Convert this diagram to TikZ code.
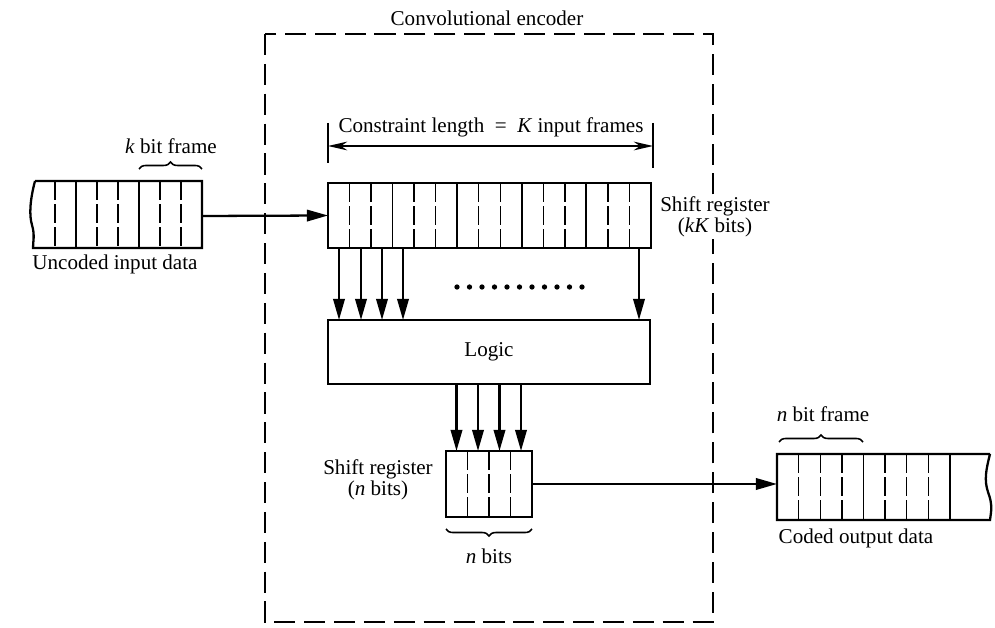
\documentclass[tikz,border=0pt]{standalone}
\usepackage{fontspec}
\setmainfont{Liberation Serif}
\usetikzlibrary{arrows.meta, positioning, calc, decorations.pathreplacing}

\begin{document}
\begin{tikzpicture}[x=0.02cm, y=-0.02cm,
    every node/.style={font=\fontsize{12}{12}\selectfont},
    reg/.style={draw, line width=1.3pt, inner sep=0pt, outer sep=0pt, anchor=north west},
    bitline/.style={line width=0.8pt, dash pattern=on 10.8pt off 2.3pt},
    frameline/.style={line width=1pt},
    arr/.style={line width=1.3pt, -{Triangle[length=12pt,width=6.5pt]}},
    encbox/.style={line width=1.1pt, dash pattern=on 12pt off 5pt},
    brc/.style={decorate, decoration={brace, amplitude=4pt}, line width=0.9pt}]
    \useasboundingbox (0,0) rectangle (995,628);

    % encoder boundary
    \draw[encbox] (265,34) rectangle (713,622);
    \node (enc) at (487,18) {Convolutional encoder};

    % uncoded input data
    \draw[line width=1.3pt] (35,181) -- (202,181) -- (202,248) -- (33,248)
        .. controls (33,242) and (35,235) .. (32,225)
        .. controls (29,215) and (30,200) .. (35,181);
    \foreach \x in {55,97,118,160,181}
        \draw[bitline] (\x,181) -- (\x,248);
    \foreach \x in {76,139}
        \draw[frameline] (\x,181) -- (\x,248);
    \coordinate (inend) at (202,216);
    \draw[brc] (139,169) -- (202,169);
    \node (kframe) at (171,146) {\textit{k} bit frame};
    \node (indata) at (115,264) {Uncoded input data};

    % shift register, kK bits
    \node[reg, minimum width=6.46cm, minimum height=1.3cm] (shreg) at (328,183) {};
    \foreach \i in {1,2,4,5,7,8,10,11,13,14}
        \draw[bitline] (328+\i*21.53,183) -- ++(0,65);
    \foreach \i in {3,6,9,12}
        \draw[frameline] (328+\i*21.53,183) -- ++(0,65);
    \draw[arr] (inend) -- (shreg.west);
    \node[fill=white, inner sep=1pt, align=center] (shlab) at (715,217) {Shift register\\(\textit{kK} bits)};

    % constraint length
    \coordinate (cl) at (328,146);
    \coordinate (cr) at (653,146);
    \draw[line width=0.6pt] (328,123) -- (328,163);
    \draw[line width=0.6pt] (653,123) -- (653,168);
    \draw[line width=0.9pt, {Stealth[length=11pt,width=5pt]}-{Stealth[length=11pt,width=5pt]}] (cl) -- (cr);
    \node (clen) at (491,127) {Constraint length~~=~~\textit{K} input frames};

    % logic
    \node[reg, minimum width=6.44cm, minimum height=1.28cm] (logic) at (328,320) {Logic};
    \foreach \x in {11,33,54,75,311}
        \draw[arr] ($(shreg.south west)+(\x,0)$) -- ($(logic.north west)+(\x,0)$);
    \foreach \i in {0,...,10}
        \fill (457+\i*12.5,287) circle (1.5pt);

    % shift register, n bits
    \node[reg, minimum width=1.72cm, minimum height=1.32cm] (sreg) at (446,451) {};
    \foreach \x in {467.5,489,510.5}
        \draw[bitline] (\x,451) -- (\x,517);
    \foreach \x in {10.5,32,53.5,75}
        \draw[arr] ($(logic.south west)+(\x+118,0)$) -- ($(sreg.north west)+(\x,0)$);
    \node[align=center] (slab) at (378,480) {Shift register\\(\textit{n} bits)};
    \draw[brc] (532,529) -- (446,529);
    \node (nbits) at (489,556) {\textit{n} bits};

    % coded output data
    \draw[line width=1.3pt] (990,454) -- (777,454) -- (777,520) -- (990,520)
        .. controls (991,512) and (993,505) .. (988,492)
        .. controls (984,480) and (986,470) .. (990,454);
    \foreach \x in {798.6,820.2,841.8,885,906.6,928.2}
        \draw[bitline] (\x,454) -- (\x,520);
    \foreach \x in {863.4,949.8}
        \draw[frameline] (\x,454) -- (\x,520);
    \coordinate (outend) at (777,487);
    \draw[arr] (sreg.east) -- (sreg.east -| outend);
    \draw[brc] (779,442) -- (863,442);
    \node (nframe) at (823,414) {\textit{n} bit frame};
    \node (outdata) at (856,538) {Coded output data};
\end{tikzpicture}
\end{document}
